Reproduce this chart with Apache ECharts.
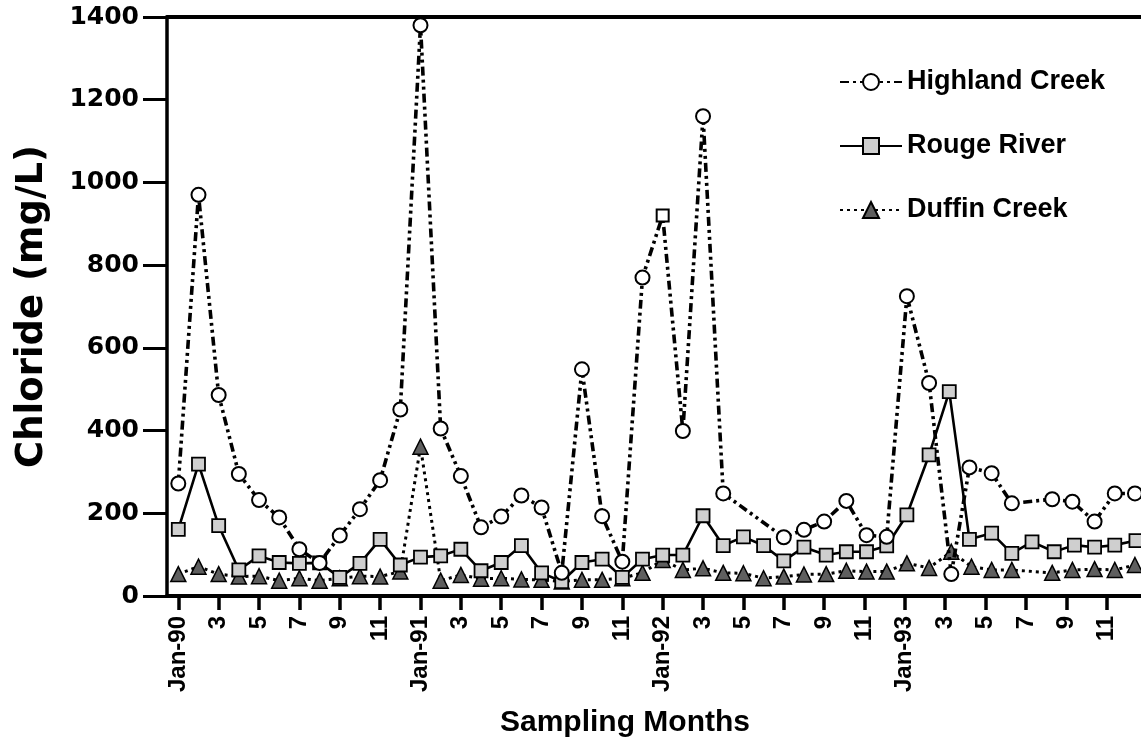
<!DOCTYPE html>
<html><head><meta charset="utf-8">
<script src="https://cdn.jsdelivr.net/npm/echarts@6/dist/echarts.min.js"></script>
<style>html,body{margin:0;padding:0;background:#fff}#c{width:1141px;height:743px}</style>
</head><body><div id="c"></div>
<script>
// Month index: 0 = Jan-90 ... 47 = Dec-93
const tickMonths = [0,2,4,6,8,10,12,14,16,18,20,22,24,26,28,30,32,34,36,38,40,42,44,46];
const tickLabels = ['Jan-90','3','5','7','9','11','Jan-91','3','5','7','9','11','Jan-92','3','5','7','9','11','Jan-93','3','5','7','9','11'];

const seriesNames = ['Highland Creek','Rouge River','Duffin Creek'];

const hcMonths = [0,1,2,3,4,5,6,7,8,9,10,11,12,13,14,15,16,17,18,19,20,21,22,23,24,25,26,27,30,31,32,33.1,34.1,35.1,36.1,37.2,38.3,39.2,40.3,41.3,43.3,44.3,45.4,46.4,47.4];
const hcValues = [272,970,486,295,232,190,113,80,146,210,280,451,1380,405,290,166,192,243,214,56,548,193,83,770,920,399,1160,248,142,160,180,230,147,143,725,515,53,311,297,224,234,228,180,248,248];

const rrMonths = [0,1,2,3,4,5,6,7,8,9,10,11,12,13,14,15,16,17,18,19,20,21,22,23,24,25,26,27,28,29,30,31,32.1,33.1,34.1,35.1,36.1,37.2,38.2,39.2,40.3,41.3,42.3,43.4,44.4,45.4,46.4,47.45];
const rrValues = [161,319,170,63,97,81,79,80,45,79,137,75,94,97,113,61,81,122,56,35,81,89,45,89,99,99,194,122,143,122,85,118,99,107,107,121,196,341,494,137,152,103,131,107,123,118,123,134];

const dcMonths = [0,1,2,3,4,5,6,7,8,9,10,11,12,13,14,15,16,17,18,19,20,21,22,23,24,25,26,27,28,29,30,31,32.1,33.1,34.1,35.1,36.1,37.2,38.3,39.3,40.3,41.3,43.3,44.3,45.4,46.4,47.4];
const dcValues = [53,71,53,47,48,37,43,37,43,48,47,59,361,37,51,42,43,40,39,35,39,39,43,56,87,63,67,56,55,43,47,52,53,61,59,59,79,68,107,71,63,63,56,63,65,63,75];

const hcSquareMonth = 24; // this Highland Creek point is drawn with a square marker

const chart = echarts.init(document.getElementById('c'), null, {renderer:'canvas'});
const F = 'Liberation Sans, Arial, sans-serif';
const FD = 'DejaVu Sans, sans-serif';

function pairs(xs, ys){ return xs.map((x,i)=>[x, ys[i]]); }

const hcData = hcMonths.map((x,i)=> x===hcSquareMonth ? {value:[x,hcValues[i]], symbol:'rect', symbolSize:12} : [x,hcValues[i]]);

chart.setOption({
  animation:false,
  backgroundColor:'#fff',
  grid:{left:167, right:0, top:17, bottom:147, containLabel:false},
  title:{text:'Sampling Months', left:620, top:703, textAlign:'center',
    textStyle:{fontFamily:F, fontWeight:'bold', fontSize:30, color:'#000'}},
  legend:{
    orient:'vertical', left:834, top:63, itemWidth:62, itemHeight:20, itemGap:36,
    data:seriesNames,
    textStyle:{fontFamily:F, fontWeight:'bold', fontSize:27, color:'#000', lineHeight:28}
  },
  xAxis:[{
    type:'value', min:-0.56, max:47.7, position:'bottom',
    splitLine:{show:false},
    axisLine:{onZero:false, lineStyle:{color:'#000', width:4}},
    axisTick:{show:true, length:14, lineStyle:{color:'#000', width:3.5}, customValues:tickMonths},
    axisLabel:{rotate:90, margin:20, fontFamily:F, fontWeight:'bold', fontSize:24, color:'#000',
      customValues:tickMonths,
      formatter:(v)=>{ const k = tickMonths.indexOf(Math.round(v)); return k>=0 ? tickLabels[k] : ''; }}
  },{
    type:'value', min:-0.56, max:47.7, position:'top',
    splitLine:{show:false},
    axisLine:{show:true, onZero:false, lineStyle:{color:'#000', width:4}},
    axisTick:{show:false}, axisLabel:{show:false}
  }],
  yAxis:{
    type:'value', min:0, max:1400, interval:200,
    name:'Chloride (mg/L)', nameLocation:'middle', nameGap:116,
    nameTextStyle:{fontFamily:FD, fontWeight:'bold', fontSize:37, color:'#000'},
    splitLine:{show:false},
    axisLine:{show:true, onZero:false, lineStyle:{color:'#000', width:3.5}},
    axisTick:{show:true, length:24, lineStyle:{color:'#000', width:3}},
    axisLabel:{margin:28, fontFamily:FD, fontWeight:'bold', fontSize:25, color:'#000',
      formatter:(v)=>String(v)}
  },
  series:[
    {
      name:seriesNames[2], type:'line', z:2,
      data:pairs(dcMonths, dcValues),
      symbol:'triangle', symbolSize:15,
      itemStyle:{color:'#5f5f5f', borderColor:'#000', borderWidth:1.5},
      lineStyle:{color:'#000', width:3, type:[3,4]}
    },
    {
      name:seriesNames[1], type:'line', z:3,
      data:pairs(rrMonths, rrValues),
      symbol:'rect', symbolSize:13,
      itemStyle:{color:'#cfcfcf', borderColor:'#000', borderWidth:1.8},
      lineStyle:{color:'#000', width:2.6, type:'solid'}
    },
    {
      name:seriesNames[0], type:'line', z:4,
      data:hcData,
      symbol:'circle', symbolSize:14,
      itemStyle:{color:'#fff', borderColor:'#000', borderWidth:2},
      lineStyle:{color:'#000', width:3.6, type:[9,4,3,4,3,4]}
    }
  ]
});
</script>
</body></html>
